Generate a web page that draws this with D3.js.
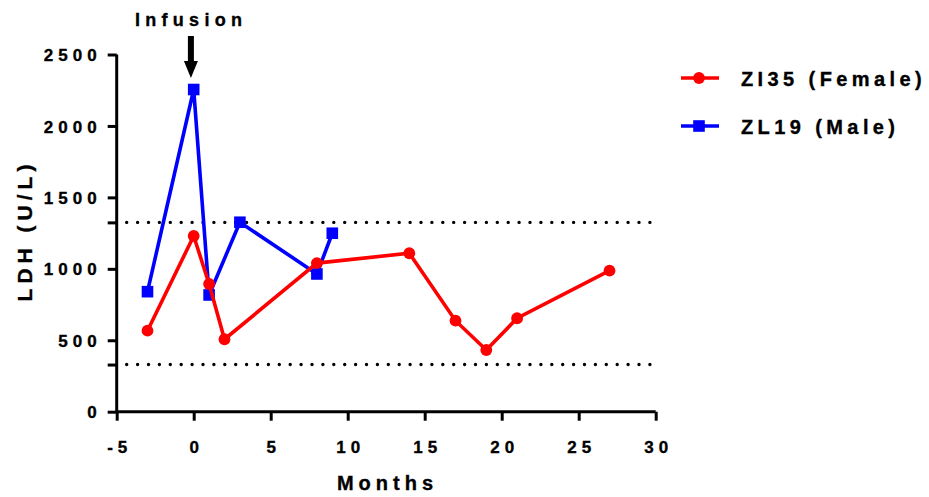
<!DOCTYPE html>
<html><head><meta charset="utf-8">
<script src="https://cdn.jsdelivr.net/npm/d3@7"></script>
<style>
body{margin:0;background:#fff;}
text{font-family:"Liberation Sans",Arial,sans-serif;font-weight:bold;fill:#000;stroke:#000;stroke-width:0.35px;}
</style></head>
<body><svg id="c" width="929" height="497"></svg>
<script>
// Data
const femaleMonths = [-3, 0, 1, 2, 8, 14, 17, 19, 21, 27];
const femaleLDH    = [567, 1230, 894, 507, 1040, 1109, 637, 432, 654, 987];
const maleMonths   = [-3, 0, 1, 3, 8, 9];
const maleLDH      = [840, 2255, 817, 1326, 964, 1249];
const xTicks = [-5, 0, 5, 10, 15, 20, 25, 30];
const yTicks = [0, 500, 1000, 1500, 2000, 2500];
const refLines = [1325, 330];
const seriesNames = ["ZI35 (Female)", "ZL19 (Male)"];

const svg = d3.select("#c");
const x = d3.scaleLinear().domain([-5, 30]).range([116.7, 655.7]);
const y = d3.scaleLinear().domain([0, 2500]).range([411.7, 54.5]);

// reference dotted lines
svg.selectAll("line.ref").data(refLines).join("line")
  .attr("x1", x(-5) + 10).attr("x2", x(30))
  .attr("y1", d => y(d)).attr("y2", d => y(d))
  .attr("stroke", "#000").attr("stroke-width", 3.4)
  .attr("stroke-linecap", "round").attr("stroke-dasharray", "0,10.9");

// axes
const tickLS = 5;
const xAxis = d3.axisBottom(x).tickValues(xTicks).tickSize(9).tickPadding(20).tickFormat(d => String(d));
const gx = svg.append("g").attr("transform", `translate(0,${y(0)})`).call(xAxis);
const yAxis = d3.axisLeft(y).tickValues(yTicks.concat(refLines)).tickSize(9).tickPadding(6)
  .tickFormat(d => yTicks.includes(d) ? String(d) : "");
const gy = svg.append("g").attr("transform", `translate(${x(-5)},0)`).call(yAxis);
[gx, gy].forEach(g => {
  g.select(".domain").attr("stroke", "#000").attr("stroke-width", 3);
  g.selectAll(".tick line").attr("stroke", "#000").attr("stroke-width", 3);
  g.selectAll(".tick text").style("font-size", "17px").style("letter-spacing", tickLS + "px")
    .style("font-family", "'Liberation Sans',Arial,sans-serif").style("font-weight", "bold")
    .style("stroke", "#000").style("stroke-width", "0.35px");
});
gx.select(".domain").attr("d", `M${x(-5)},0H${x(30)}`);
gy.select(".domain").attr("d", `M0,${y(0)}V${y(2500)}`);
gx.selectAll(".tick text").attr("dx", (tickLS / 2) + "px");
gy.selectAll(".tick text").attr("dy", "0.36em");

// axis titles
svg.append("text").attr("x", 385 + 2.5).attr("y", 490).attr("text-anchor", "middle")
  .style("font-size", "20px").style("letter-spacing", "5px").text("Months");
svg.append("text").attr("transform", "translate(32,233) rotate(-90)").attr("text-anchor", "middle")
  .attr("dx", "2.5px")
  .style("font-size", "21px").style("letter-spacing", "5px").text("LDH (U/L)");

// series
const female = femaleMonths.map((m, i) => [m, femaleLDH[i]]);
const male = maleMonths.map((m, i) => [m, maleLDH[i]]);
const line = d3.line().x(d => x(d[0])).y(d => y(d[1]));

svg.append("path").datum(male).attr("d", line).attr("fill", "none")
  .attr("stroke", "#0000ff").attr("stroke-width", 3.6);
svg.selectAll("rect.m").data(male).join("rect")
  .attr("x", d => x(d[0]) - 5.8).attr("y", d => y(d[1]) - 5.8)
  .attr("width", 11.6).attr("height", 11.6).attr("fill", "#0000ff");

svg.append("path").datum(female).attr("d", line).attr("fill", "none")
  .attr("stroke", "#ff0000").attr("stroke-width", 3.6);
svg.selectAll("circle.f").data(female).join("circle")
  .attr("cx", d => x(d[0])).attr("cy", d => y(d[1])).attr("r", 5.9).attr("fill", "#ff0000");

// Infusion annotation
svg.append("text").attr("x", 188.5).attr("y", 26).attr("dx", "2.6px").attr("text-anchor", "middle")
  .style("font-size", "18px").style("letter-spacing", "5.3px").text("Infusion");
svg.append("rect").attr("x", x(0) - 5.8).attr("y", 36).attr("width", 6).attr("height", 26).attr("fill", "#000");
svg.append("path").attr("d", `M${x(0) - 9.8},61L${x(0) + 4.2},61L${x(0) - 2.8},78Z`).attr("fill", "#000");

// legend
const leg = svg.append("g");
const legColors = ["#ff0000", "#0000ff"];
const legY = [78, 126];
seriesNames.forEach((n, i) => {
  leg.append("line").attr("x1", 681).attr("x2", 719).attr("y1", legY[i]).attr("y2", legY[i])
    .attr("stroke", legColors[i]).attr("stroke-width", 3.6);
  if (i === 0) leg.append("circle").attr("cx", 699).attr("cy", legY[i]).attr("r", 5.9).attr("fill", legColors[i]);
  else leg.append("rect").attr("x", 693.2).attr("y", legY[i] - 5.8).attr("width", 11.6).attr("height", 11.6).attr("fill", legColors[i]);
  leg.append("text").attr("x", 741).attr("y", legY[i] + 8).style("font-size", "20px")
    .style("letter-spacing", "4.4px").text(n);
});
</script></body></html>
